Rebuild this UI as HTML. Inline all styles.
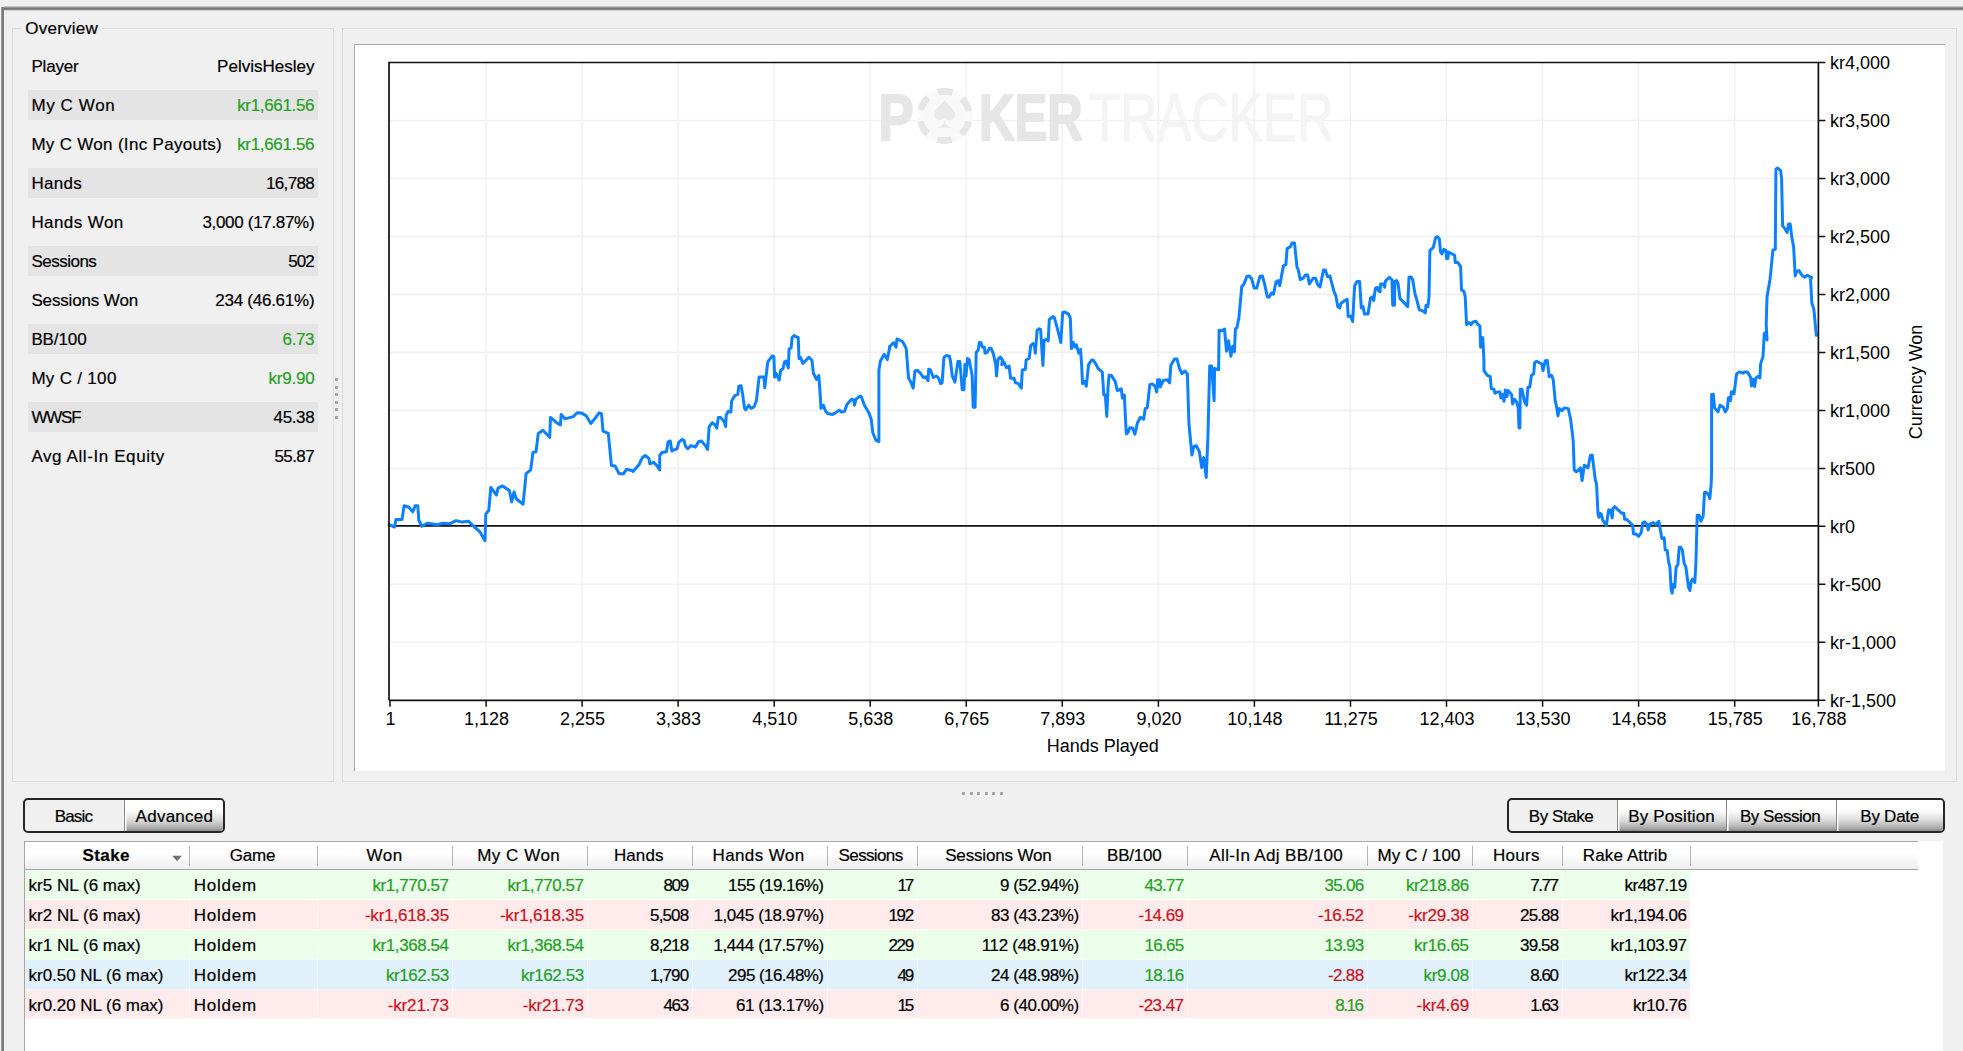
<!DOCTYPE html>
<html><head><meta charset="utf-8"><title>Overview</title>
<style>
html,body{margin:0;padding:0;}
body{width:1963px;height:1051px;overflow:hidden;background:#f0f0f0;font-family:"Liberation Sans", sans-serif;font-size:17px;color:#000;position:relative;}
.abs{position:absolute;}
.dot{position:absolute;width:3px;height:3px;background:#a4a4a4;box-shadow:1px 1px 0 #fff;}
.t{position:absolute;white-space:nowrap;line-height:20px;height:20px;-webkit-text-stroke:0.2px currentColor;}
.g{color:#1fa01f;}
.r{color:#c8141e;}
.gb{position:absolute;border:1px solid #dcdcdc;box-sizing:border-box;}
.shade{position:absolute;left:27.7px;width:289.9px;height:30px;background:#e4e4e4;}
.btn{position:absolute;top:0;height:100%;box-sizing:border-box;}
.grad{background:linear-gradient(#ffffff 0%,#ffffff 28%,#f2f2f2 45%,#dadada 65%,#bdbdbd 82%,#a0a0a0 94%,#8a8a8a 100%);box-shadow:inset 1.5px 0 0 #fff;}
.bg{position:absolute;border:2px solid #262626;border-radius:5px;box-sizing:border-box;overflow:hidden;background:#f0f0f0;}
.sep{position:absolute;top:846px;width:1px;height:20px;background:#b4b4b4;}
.c{position:absolute;height:29px;}
</style></head><body>

<div class="abs" style="left:0.8px;top:6.6px;width:3.6px;height:1045px;background:linear-gradient(to right,#c4c4c4,#8c8c8c 25%,#767676 50%,#6e6e6e 75%,#9a9a9a)"></div>
<div class="abs" style="left:3.5px;top:6px;width:1960px;height:4.6px;background:linear-gradient(#dadada,#9a9a9a 28%,#6e6e6e 52%,#8e8e8e 72%,#c8c8c8 88%,#f6f6f6)"></div>
<div class="gb" style="left:12px;top:28px;width:322px;height:753.5px"></div>
<div class="abs" style="left:22px;top:20px;width:80px;height:16px;background:#f0f0f0"></div>
<div class="t " style="left:25.30px;top:19px;letter-spacing:0.229px;">Overview</div>
<div class="gb" style="left:342px;top:28px;width:1614.5px;height:753.5px"></div>
<div class="t " style="left:31.40px;top:57px;letter-spacing:-0.170px;">Player</div>
<div class="t " style="left:217.10px;top:57px;letter-spacing:0.011px;">PelvisHesley</div>
<div class="shade" style="top:90.4px"></div>
<div class="t " style="left:31.40px;top:96px;letter-spacing:0.614px;">My C Won</div>
<div class="t g" style="left:237.20px;top:96px;letter-spacing:-0.331px;">kr1,661.56</div>
<div class="t " style="left:31.40px;top:135px;letter-spacing:0.306px;">My C Won (Inc Payouts)</div>
<div class="t g" style="left:237.20px;top:135px;letter-spacing:-0.331px;">kr1,661.56</div>
<div class="shade" style="top:168.4px"></div>
<div class="t " style="left:31.40px;top:174px;letter-spacing:0.294px;">Hands</div>
<div class="t " style="left:266.10px;top:174px;letter-spacing:-0.700px;">16,788</div>
<div class="t " style="left:31.40px;top:213px;letter-spacing:0.425px;">Hands Won</div>
<div class="t " style="left:202.40px;top:213px;letter-spacing:-0.312px;">3,000 (17.87%)</div>
<div class="shade" style="top:246.4px"></div>
<div class="t " style="left:31.40px;top:252px;letter-spacing:-0.500px;">Sessions</div>
<div class="t " style="left:288.30px;top:252px;letter-spacing:-1.037px;">502</div>
<div class="t " style="left:31.40px;top:291px;letter-spacing:-0.143px;">Sessions Won</div>
<div class="t " style="left:215.30px;top:291px;letter-spacing:-0.257px;">234 (46.61%)</div>
<div class="shade" style="top:324.4px"></div>
<div class="t " style="left:31.40px;top:330px;letter-spacing:-0.110px;">BB/100</div>
<div class="t g" style="left:282.60px;top:330px;letter-spacing:-0.375px;">6.73</div>
<div class="t " style="left:31.40px;top:369px;letter-spacing:0.306px;">My C / 100</div>
<div class="t g" style="left:268.50px;top:369px;letter-spacing:-0.230px;">kr9.90</div>
<div class="shade" style="top:402.4px"></div>
<div class="t " style="left:31.40px;top:408px;letter-spacing:-1.192px;">WWSF</div>
<div class="t " style="left:273.60px;top:408px;letter-spacing:-0.375px;">45.38</div>
<div class="t " style="left:31.40px;top:447px;letter-spacing:0.594px;">Avg All-In Equity</div>
<div class="t " style="left:274.40px;top:447px;letter-spacing:-0.575px;">55.87</div>
<div class="dot" style="left:335.4px;top:378.4px"></div>
<div class="dot" style="left:335.4px;top:385.9px"></div>
<div class="dot" style="left:335.4px;top:393.4px"></div>
<div class="dot" style="left:335.4px;top:400.9px"></div>
<div class="dot" style="left:335.4px;top:408.4px"></div>
<div class="dot" style="left:335.4px;top:415.9px"></div>
<div class="dot" style="left:962.4px;top:792.4px"></div>
<div class="dot" style="left:969.9px;top:792.4px"></div>
<div class="dot" style="left:977.4px;top:792.4px"></div>
<div class="dot" style="left:984.9px;top:792.4px"></div>
<div class="dot" style="left:992.4px;top:792.4px"></div>
<div class="dot" style="left:999.9px;top:792.4px"></div>
<div class="abs" style="left:354px;top:44px;width:1590.6px;height:727px;background:#fff;border-left:1px solid #a6a6a6;border-top:1px solid #a6a6a6;box-sizing:border-box"></div>
<svg class="abs" style="left:0;top:0" width="1963" height="800" viewBox="0 0 1963 800" font-family='"Liberation Sans", sans-serif' font-size="18">
<path d="M486.1 62.5V700.3M582.1 62.5V700.3M678.1 62.5V700.3M774.2 62.5V700.3M870.2 62.5V700.3M966.3 62.5V700.3M1062.3 62.5V700.3M1158.4 62.5V700.3M1254.4 62.5V700.3M1350.5 62.5V700.3M1446.5 62.5V700.3M1542.6 62.5V700.3M1638.6 62.5V700.3M1734.7 62.5V700.3M389.0 120.5H1818.4M389.0 178.5H1818.4M389.0 236.4H1818.4M389.0 294.4H1818.4M389.0 352.4H1818.4M389.0 410.4H1818.4M389.0 468.4H1818.4M389.0 584.3H1818.4M389.0 642.3H1818.4" stroke="#f1f1f1" stroke-width="1.6" fill="none"/>
<g>
<text x="878.3" y="139.9" font-size="65" font-weight="bold" fill="#e6e6e6" stroke="#e6e6e6" stroke-width="2" stroke-linejoin="round" textLength="35.5" lengthAdjust="spacingAndGlyphs">P</text>
<circle cx="944.6" cy="116" r="28" fill="#f9f9f9"/>
<circle cx="944.6" cy="116" r="24.6" fill="none" stroke="#e6e6e6" stroke-width="6.8" stroke-dasharray="14.6 11.16" transform="rotate(13 944.6 116)"/>
<circle cx="944.6" cy="116" r="21" fill="#f8f8f8"/>
<path d="M944.6 100C942 105 934.2 109 934.2 115C934.2 118.500 937 120.300 939.500 120.300C941.800 120.300 943.600 119.200 944.600 117.600C945.600 119.200 947.400 120.300 949.700 120.300C952.200 120.300 955 118.500 955 115C955 109 947.200 105 944.600 100ZM944.600 120.500C944 124 941 127 936.600 127.800H952.600C948.200 127 945.200 124 944.600 120.500Z" fill="#e9e9e9"/>
<text x="978.9" y="139.9" font-size="65" font-weight="bold" fill="#e6e6e6" stroke="#e6e6e6" stroke-width="2" stroke-linejoin="round" textLength="104" lengthAdjust="spacingAndGlyphs">KER</text>
<text x="1089" y="140.8" font-size="67.6" fill="#f4f4f4" stroke="#f4f4f4" stroke-width="1.2" textLength="245" lengthAdjust="spacingAndGlyphs">TRACKER</text>
</g>
<path d="M389.0 525.9H1818.4" stroke="#111" stroke-width="1.6" fill="none"/>
<polyline points="389.1,524.7 394.5,527.0 396.0,519.4 402.1,519.4 404.1,505.7 408.9,507.2 412.7,511.8 415.3,505.7 417.8,505.7 418.8,520.2 421.9,526.2 427.2,523.2 437.8,524.7 442.4,523.2 450.0,523.7 456.1,520.6 462.2,522.1 468.3,521.2 474.4,527.0 479.7,531.6 485.0,540.7 485.8,514.1 488.8,510.3 490.8,487.4 496.5,495.0 498.0,488.2 502.5,485.9 509.4,490.5 511.7,501.9 514.0,492.0 516.2,498.8 523.1,504.2 526.1,473.7 530.7,469.9 533.0,452.4 536.0,451.7 538.3,433.4 542.9,430.3 549.7,437.2 550.5,417.4 556.6,422.7 560.4,425.0 561.2,414.4 565.0,418.9 573.3,416.6 577.1,412.8 581.7,413.1 586.3,415.9 590.8,423.5 594.6,418.9 599.2,412.8 601.5,413.6 603.0,431.1 608.3,433.4 611.4,465.4 615.2,466.1 619.0,473.7 623.6,473.7 626.6,469.2 632.7,470.7 633.0,471.5 639.1,464.6 642.2,457.8 645.2,455.5 649.0,458.5 649.8,463.9 653.6,462.3 656.6,465.4 659.7,469.9 659.7,455.5 662.0,452.4 666.5,451.7 668.1,441.8 670.3,441.0 671.9,450.9 677.2,448.6 678.7,442.5 681.8,439.5 684.0,440.3 685.6,446.4 687.8,448.6 690.9,445.6 695.5,447.1 698.5,441.8 701.5,441.0 705.4,445.6 707.6,449.4 709.2,426.6 712.2,422.8 715.2,425.0 716.8,428.1 718.3,417.4 720.6,417.4 724.4,422.0 725.6,426.6 726.2,415.1 728.2,411.3 730.8,412.1 731.7,400.7 735.0,395.4 737.8,394.6 738.8,386.2 741.1,385.8 742.7,394.6 744.5,408.3 745.7,409.8 748.7,405.2 751.0,408.3 754.1,406.8 756.4,400.7 759.1,377.1 764.0,377.1 764.7,387.7 767.8,361.9 772.3,355.8 773.9,356.5 774.6,377.1 776.1,373.3 779.2,380.1 780.7,370.2 783.0,368.7 784.5,361.9 786.0,361.1 788.3,368.0 789.1,348.9 791.1,348.2 792.1,337.5 794.1,335.5 795.9,336.7 798.2,337.5 799.0,358.8 800.5,357.3 802.8,363.4 808.9,357.3 811.9,360.3 813.4,373.3 816.5,379.4 818.8,375.6 820.3,396.1 821.0,408.3 823.3,405.2 825.6,411.3 827.9,413.6 832.5,414.4 835.5,412.9 839.3,410.1 841.6,412.1 844.6,411.3 846.9,404.5 851.5,399.2 853.8,399.9 854.5,405.2 856.1,399.2 859.9,396.1 861.4,396.9 864.4,405.2 869.0,412.9 871.3,419.7 872.8,432.7 875.9,440.3 878.9,441.5 878.9,370.2 880.4,361.1 884.2,354.3 887.3,359.6 890.0,345.9 889.4,347.1 893.7,342.5 896.0,347.1 897.0,339.0 899.8,340.2 902.8,341.8 906.2,348.6 908.6,378.3 910.4,381.3 913.2,388.2 915.0,370.7 917.3,370.4 920.3,373.0 923.4,377.5 925.7,376.8 928.0,380.6 928.7,369.2 930.5,369.9 933.3,377.5 936.3,376.0 938.6,378.3 940.6,383.6 942.1,382.9 943.9,357.7 946.2,355.5 949.3,356.2 950.3,360.0 952.3,376.0 954.9,382.1 957.9,361.5 959.9,361.5 962.2,389.7 964.0,389.7 964.9,364.6 966.0,376.0 967.5,358.5 969.1,359.3 972.1,375.2 973.2,407.2 975.1,407.2 976.2,352.4 978.2,350.1 979.3,342.5 980.8,342.5 982.3,347.1 984.3,347.1 985.0,353.2 987.3,352.4 989.3,348.2 991.1,348.2 993.4,353.9 995.7,364.6 996.5,376.0 998.0,359.3 1000.3,357.0 1002.5,360.0 1001.8,364.6 1004.1,362.3 1006.4,367.6 1009.1,366.1 1010.6,378.3 1014.0,378.3 1015.5,382.9 1018.5,383.6 1021.3,388.2 1022.3,369.9 1025.4,369.2 1026.1,360.0 1029.2,358.2 1030.7,345.6 1033.0,343.6 1034.5,346.3 1035.3,353.2 1037.1,330.3 1039.1,328.8 1040.6,329.3 1042.9,365.4 1044.1,340.2 1046.7,339.5 1048.2,341.0 1049.3,319.7 1052.8,316.6 1054.3,317.4 1057.3,328.1 1060.8,342.5 1062.7,312.5 1065.0,312.1 1068.8,314.4 1070.3,318.2 1071.5,348.6 1073.3,342.5 1074.9,347.1 1076.4,344.8 1078.7,353.2 1080.6,349.4 1081.7,366.1 1082.5,383.6 1084.7,381.3 1086.3,386.2 1088.6,364.6 1091.6,360.0 1093.4,360.3 1096.2,364.6 1098.0,368.4 1102.3,372.2 1103.8,395.0 1105.3,395.0 1106.8,416.4 1108.0,387.4 1109.1,375.2 1111.1,375.2 1115.2,381.3 1117.2,390.5 1121.3,388.9 1122.4,398.1 1124.3,395.0 1126.3,433.9 1128.1,432.3 1129.7,427.8 1132.5,427.9 1134.9,434.1 1137.4,423.0 1140.4,417.3 1143.6,419.3 1145.3,408.6 1147.3,407.6 1149.8,384.6 1152.3,383.9 1155.2,386.4 1156.7,392.0 1157.7,379.7 1159.7,379.7 1160.2,387.1 1163.4,380.4 1167.1,379.7 1169.6,382.9 1170.8,365.6 1174.5,359.1 1177.0,359.1 1179.5,368.5 1182.0,373.5 1184.9,371.0 1187.4,374.0 1188.9,423.0 1191.9,455.1 1193.8,446.5 1196.3,445.7 1199.3,451.4 1201.7,467.5 1203.7,457.6 1206.2,477.4 1207.9,437.8 1209.7,366.1 1211.6,366.1 1214.1,400.7 1214.6,368.5 1218.6,369.8 1219.1,330.2 1222.0,330.9 1224.5,329.0 1226.5,351.2 1228.5,340.8 1230.9,356.2 1232.7,346.3 1234.4,351.7 1235.4,329.0 1236.9,327.7 1238.9,317.8 1241.8,286.4 1243.8,284.4 1246.8,276.5 1249.2,276.0 1251.7,279.0 1254.2,288.1 1256.7,288.1 1259.9,276.5 1262.4,276.0 1264.8,284.9 1267.3,296.8 1269.0,297.3 1271.5,293.1 1273.5,294.3 1276.0,282.0 1277.9,280.7 1279.7,285.7 1283.4,265.9 1285.9,264.6 1287.1,248.6 1290.3,246.8 1292.0,242.9 1294.5,242.9 1297.0,267.1 1298.2,269.6 1300.2,279.5 1303.2,278.2 1305.2,275.0 1307.6,275.0 1309.4,283.9 1313.1,278.2 1315.6,278.2 1317.5,284.4 1320.0,286.9 1323.5,270.1 1325.4,270.1 1327.4,276.5 1329.9,276.0 1334.1,291.9 1335.8,295.6 1337.8,306.7 1339.8,307.9 1340.8,303.7 1344.7,300.5 1347.2,299.3 1348.2,316.6 1350.7,316.1 1352.7,321.5 1354.6,285.7 1357.1,281.5 1359.6,281.5 1361.3,307.9 1363.1,306.7 1364.5,314.1 1368.0,314.1 1370.5,298.0 1372.5,296.8 1373.7,300.5 1375.4,288.1 1377.4,287.4 1378.4,290.6 1380.0,291.9 1380.7,283.9 1383.3,283.9 1384.7,287.3 1385.3,281.3 1389.3,277.3 1392.0,279.9 1392.7,305.3 1394.4,305.3 1394.9,281.3 1396.6,280.6 1398.0,283.3 1400.0,298.6 1403.3,301.9 1407.7,306.6 1409.0,277.3 1410.9,276.9 1412.6,279.3 1414.9,293.3 1417.3,301.9 1419.3,309.9 1422.0,310.6 1425.3,312.8 1426.0,305.3 1427.9,306.6 1429.0,296.6 1429.9,250.6 1433.3,247.3 1435.7,237.3 1437.5,236.7 1439.3,238.7 1440.6,252.0 1441.9,254.0 1443.9,249.3 1445.9,250.6 1446.6,258.6 1447.9,258.6 1448.6,252.0 1454.6,255.3 1455.3,262.6 1457.9,262.6 1460.6,266.6 1461.5,289.9 1463.9,291.3 1465.2,296.6 1466.6,324.6 1469.2,322.6 1471.2,324.6 1472.6,322.2 1475.9,321.2 1477.9,324.6 1479.9,325.9 1480.6,347.2 1481.5,337.2 1482.8,337.9 1483.9,359.2 1484.0,370.6 1487.3,375.3 1490.2,376.6 1491.3,388.6 1494.0,389.3 1495.0,393.3 1497.3,392.0 1500.0,392.0 1500.9,397.9 1502.6,394.6 1504.0,401.3 1505.3,390.0 1507.0,396.6 1508.0,390.6 1511.6,394.6 1512.6,403.9 1514.6,399.3 1516.6,401.9 1518.2,407.3 1519.0,427.9 1519.9,427.9 1520.3,389.3 1521.9,389.3 1524.6,401.9 1526.6,405.3 1527.9,387.3 1529.7,387.3 1531.5,375.3 1533.7,374.0 1534.6,362.7 1536.6,361.3 1541.9,364.0 1543.0,370.6 1545.3,360.7 1547.3,360.4 1549.2,376.6 1551.5,375.3 1553.2,379.3 1555.2,400.6 1556.8,407.9 1557.9,415.9 1559.5,408.6 1561.9,410.6 1564.6,407.9 1568.3,408.6 1570.6,419.3 1573.2,440.6 1574.2,469.9 1576.3,471.9 1580.5,467.9 1582.1,480.5 1584.3,465.2 1587.9,467.9 1590.5,455.2 1592.3,455.2 1595.2,479.2 1596.6,484.7 1598.0,514.0 1598.9,517.3 1600.0,513.3 1601.3,514.0 1602.6,519.9 1606.4,525.3 1608.6,510.0 1610.3,510.0 1612.2,517.9 1613.0,508.6 1614.6,506.6 1621.9,513.3 1623.9,513.3 1624.6,519.3 1626.6,519.3 1632.6,525.3 1633.5,533.9 1635.9,533.9 1638.6,536.3 1641.2,532.6 1642.8,522.6 1644.6,521.9 1647.2,524.6 1648.2,529.9 1649.9,523.9 1653.2,522.6 1655.9,524.6 1658.8,521.3 1661.9,538.6 1664.2,537.9 1665.2,549.9 1667.2,550.6 1668.6,561.9 1669.9,567.2 1671.2,589.9 1672.1,593.2 1673.2,584.5 1674.8,587.2 1676.1,567.2 1677.9,564.6 1679.2,547.3 1680.5,547.0 1682.3,549.9 1684.1,563.2 1685.9,567.2 1688.5,587.2 1689.9,590.5 1691.2,581.2 1692.5,579.2 1694.8,582.5 1695.9,563.2 1697.2,515.3 1699.2,515.3 1700.9,521.3 1703.2,516.0 1704.5,492.6 1705.8,492.0 1708.5,494.6 1709.8,498.6 1711.2,484.0 1711.6,470.0 1711.6,394.6 1713.3,394.3 1714.6,407.9 1718.0,411.9 1720.0,405.2 1723.3,407.2 1725.3,411.9 1727.3,408.5 1728.4,397.9 1729.7,397.2 1730.6,400.6 1731.3,391.9 1732.6,391.6 1734.0,393.9 1736.6,373.9 1739.3,371.9 1743.3,373.2 1744.6,371.9 1747.3,371.9 1750.6,377.2 1751.5,385.9 1753.3,379.2 1754.6,386.6 1755.9,377.9 1757.9,376.6 1759.9,377.9 1760.6,363.9 1763.0,356.6 1764.3,333.3 1765.7,332.6 1767.0,339.9 1766.2,324.0 1767.0,297.3 1769.9,280.0 1770.6,273.9 1772.9,249.9 1775.3,249.2 1775.9,169.3 1777.7,168.0 1780.6,170.6 1781.6,178.6 1782.6,225.9 1784.8,228.6 1787.2,232.6 1788.6,223.9 1790.2,223.9 1791.9,237.9 1793.6,246.6 1795.2,275.9 1796.6,271.2 1799.0,270.6 1801.9,275.2 1804.6,277.2 1807.2,275.2 1811.5,277.6 1810.6,280.0 1811.9,303.3 1813.9,309.3 1816.3,335.3" fill="none" stroke="#0c80ff" stroke-width="3" stroke-linejoin="round" stroke-linecap="round"/>
<path d="M389.0 700.3V62.5H1818.4V700.3H389.0" stroke="#111" stroke-width="1.7" fill="none"/>
<path d="M390.0 700.3v6.5M486.1 700.3v6.5M582.1 700.3v6.5M678.1 700.3v6.5M774.2 700.3v6.5M870.2 700.3v6.5M966.3 700.3v6.5M1062.3 700.3v6.5M1158.4 700.3v6.5M1254.4 700.3v6.5M1350.5 700.3v6.5M1446.5 700.3v6.5M1542.6 700.3v6.5M1638.6 700.3v6.5M1734.7 700.3v6.5M1818.4 700.3v6.5M1818.4 62.5h7M1818.4 120.5h7M1818.4 178.5h7M1818.4 236.4h7M1818.4 294.4h7M1818.4 352.4h7M1818.4 410.4h7M1818.4 468.4h7M1818.4 526.3h7M1818.4 584.3h7M1818.4 642.3h7M1818.4 700.3h7" stroke="#111" stroke-width="1.5" fill="none"/>
<text x="390.5" y="724.7" text-anchor="middle">1</text>
<text x="486.6" y="724.7" text-anchor="middle">1,128</text>
<text x="582.6" y="724.7" text-anchor="middle">2,255</text>
<text x="678.6" y="724.7" text-anchor="middle">3,383</text>
<text x="774.7" y="724.7" text-anchor="middle">4,510</text>
<text x="870.8" y="724.7" text-anchor="middle">5,638</text>
<text x="966.8" y="724.7" text-anchor="middle">6,765</text>
<text x="1062.8" y="724.7" text-anchor="middle">7,893</text>
<text x="1158.9" y="724.7" text-anchor="middle">9,020</text>
<text x="1254.9" y="724.7" text-anchor="middle">10,148</text>
<text x="1351.0" y="724.7" text-anchor="middle">11,275</text>
<text x="1447.0" y="724.7" text-anchor="middle">12,403</text>
<text x="1543.1" y="724.7" text-anchor="middle">13,530</text>
<text x="1639.1" y="724.7" text-anchor="middle">14,658</text>
<text x="1735.2" y="724.7" text-anchor="middle">15,785</text>
<text x="1818.9" y="724.7" text-anchor="middle">16,788</text>
<text x="1830" y="69.0">kr4,000</text>
<text x="1830" y="127.0">kr3,500</text>
<text x="1830" y="185.0">kr3,000</text>
<text x="1830" y="242.9">kr2,500</text>
<text x="1830" y="300.9">kr2,000</text>
<text x="1830" y="358.9">kr1,500</text>
<text x="1830" y="416.9">kr1,000</text>
<text x="1830" y="474.9">kr500</text>
<text x="1830" y="532.8">kr0</text>
<text x="1830" y="590.8">kr-500</text>
<text x="1830" y="648.8">kr-1,000</text>
<text x="1830" y="706.8">kr-1,500</text>
<text x="1102.8" y="751.7" text-anchor="middle">Hands Played</text>
<text transform="translate(1922.1,382) rotate(-90)" text-anchor="middle">Currency Won</text>
</svg>
<div class="bg" style="left:23.3px;top:798px;width:201.3px;height:35px">
<div class="btn grad" style="left:99px;width:102px;border-left:1.5px solid #8a8a8a"></div>
</div>
<div class="t " style="left:54.70px;top:807px;letter-spacing:-0.806px;">Basic</div>
<div class="t " style="left:135.55px;top:807px;letter-spacing:0.268px;">Advanced</div>
<div class="bg" style="left:1506.8px;top:798px;width:438.4px;height:35px">
<div class="btn grad" style="left:108.1px;width:111px;border-left:1.5px solid #8a8a8a;"></div>
<div class="btn grad" style="left:217.7px;width:111px;border-left:1.5px solid #8a8a8a;"></div>
<div class="btn grad" style="left:327.3px;width:111px;border-left:1.5px solid #8a8a8a;"></div>
</div>
<div class="t " style="left:1528.85px;top:807px;letter-spacing:-0.443px;">By Stake</div>
<div class="t " style="left:1628.25px;top:807px;letter-spacing:0.150px;">By Position</div>
<div class="t " style="left:1739.90px;top:807px;letter-spacing:-0.467px;">By Session</div>
<div class="t " style="left:1860.30px;top:807px;letter-spacing:-0.250px;">By Date</div>
<div class="abs" style="left:23.6px;top:841px;width:1919.7px;height:210px;background:#fff;border-left:1.5px solid #a6a6a6;box-sizing:border-box"></div>
<div class="abs" style="left:23.6px;top:840.6px;width:1894.6px;height:29.6px;background:linear-gradient(#fff,#fff 40%,#eeeeee);border-top:1.4px solid #a8a8a8;border-bottom:1.5px solid #a4a4a4;border-left:1.5px solid #a6a6a6;box-sizing:border-box"></div>
<div class="t " style="left:82.45px;top:846px;letter-spacing:0.431px;font-weight:bold;">Stake</div>
<div class="sep" style="left:188.5px"></div>
<div class="t " style="left:229.80px;top:846px;letter-spacing:-0.217px;">Game</div>
<div class="sep" style="left:316.5px"></div>
<div class="t " style="left:366.50px;top:846px;letter-spacing:0.488px;">Won</div>
<div class="sep" style="left:451.5px"></div>
<div class="t " style="left:477.20px;top:846px;letter-spacing:0.514px;">My C Won</div>
<div class="sep" style="left:586.5px"></div>
<div class="t " style="left:613.90px;top:846px;letter-spacing:0.119px;">Hands</div>
<div class="sep" style="left:691.5px"></div>
<div class="t " style="left:712.50px;top:846px;letter-spacing:0.387px;">Hands Won</div>
<div class="sep" style="left:826.5px"></div>
<div class="t " style="left:838.60px;top:846px;letter-spacing:-0.629px;">Sessions</div>
<div class="sep" style="left:916.5px"></div>
<div class="t " style="left:945.20px;top:846px;letter-spacing:-0.161px;">Sessions Won</div>
<div class="sep" style="left:1081.5px"></div>
<div class="t " style="left:1107.10px;top:846px;letter-spacing:-0.230px;">BB/100</div>
<div class="sep" style="left:1186.5px"></div>
<div class="t " style="left:1209.30px;top:846px;letter-spacing:0.361px;">All-In Adj BB/100</div>
<div class="sep" style="left:1366.5px"></div>
<div class="t " style="left:1377.50px;top:846px;letter-spacing:0.083px;">My C / 100</div>
<div class="sep" style="left:1471.5px"></div>
<div class="t " style="left:1492.90px;top:846px;letter-spacing:0.306px;">Hours</div>
<div class="sep" style="left:1561.5px"></div>
<div class="t " style="left:1582.80px;top:846px;letter-spacing:0.128px;">Rake Attrib</div>
<div class="sep" style="left:1689.5px"></div>
<svg class="abs" style="left:170px;top:853px" width="14" height="10"><path d="M2.3 2.7h9.6l-4.800 5.500z" fill="#707070"/></svg>
<div class="c" style="left:25.1px;top:870.4px;width:1664.5px;height:30px;background:#ebffeb"></div>
<div class="abs" style="left:25.1px;top:899.2px;width:1664.5px;height:1px;background:rgba(255,255,255,0.5)"></div>
<div class="t " style="left:28.60px;top:876px;letter-spacing:0.027px;">kr5 NL (6 max)</div>
<div class="t " style="left:193.80px;top:876px;letter-spacing:0.755px;">Holdem</div>
<div class="t g" style="left:372.50px;top:876px;letter-spacing:-0.419px;">kr1,770.57</div>
<div class="t g" style="left:507.50px;top:876px;letter-spacing:-0.419px;">kr1,770.57</div>
<div class="t " style="left:663.50px;top:876px;letter-spacing:-1.387px;">809</div>
<div class="t " style="left:728.10px;top:876px;letter-spacing:-0.557px;">155 (19.16%)</div>
<div class="t " style="left:897.50px;top:876px;letter-spacing:-2.275px;">17</div>
<div class="t " style="left:1000.10px;top:876px;letter-spacing:-0.458px;">9 (52.94%)</div>
<div class="t g" style="left:1144.60px;top:876px;letter-spacing:-0.750px;">43.77</div>
<div class="t g" style="left:1324.60px;top:876px;letter-spacing:-0.750px;">35.06</div>
<div class="t g" style="left:1405.90px;top:876px;letter-spacing:-0.418px;">kr218.86</div>
<div class="t " style="left:1530.30px;top:876px;letter-spacing:-1.442px;">7.77</div>
<div class="t " style="left:1624.50px;top:876px;letter-spacing:-0.504px;">kr487.19</div>
<div class="c" style="left:25.1px;top:900.2px;width:1664.5px;height:30px;background:#ffebeb"></div>
<div class="abs" style="left:25.1px;top:929.0px;width:1664.5px;height:1px;background:rgba(255,255,255,0.5)"></div>
<div class="t " style="left:28.60px;top:906px;letter-spacing:0.027px;">kr2 NL (6 max)</div>
<div class="t " style="left:193.80px;top:906px;letter-spacing:0.755px;">Holdem</div>
<div class="t r" style="left:364.90px;top:906px;letter-spacing:-0.180px;">-kr1,618.35</div>
<div class="t r" style="left:499.90px;top:906px;letter-spacing:-0.180px;">-kr1,618.35</div>
<div class="t " style="left:650.10px;top:906px;letter-spacing:-0.875px;">5,508</div>
<div class="t " style="left:713.50px;top:906px;letter-spacing:-0.435px;">1,045 (18.97%)</div>
<div class="t " style="left:888.50px;top:906px;letter-spacing:-1.387px;">192</div>
<div class="t " style="left:991.10px;top:906px;letter-spacing:-0.463px;">83 (43.23%)</div>
<div class="t r" style="left:1138.50px;top:906px;letter-spacing:-0.530px;">-14.69</div>
<div class="t r" style="left:1318.10px;top:906px;letter-spacing:-0.450px;">-16.52</div>
<div class="t r" style="left:1408.30px;top:906px;letter-spacing:-0.225px;">-kr29.38</div>
<div class="t " style="left:1520.10px;top:906px;letter-spacing:-0.875px;">25.88</div>
<div class="t " style="left:1610.60px;top:906px;letter-spacing:-0.431px;">kr1,194.06</div>
<div class="c" style="left:25.1px;top:930.0px;width:1664.5px;height:30px;background:#ebffeb"></div>
<div class="abs" style="left:25.1px;top:958.8px;width:1664.5px;height:1px;background:rgba(255,255,255,0.5)"></div>
<div class="t " style="left:28.60px;top:936px;letter-spacing:0.027px;">kr1 NL (6 max)</div>
<div class="t " style="left:193.80px;top:936px;letter-spacing:0.755px;">Holdem</div>
<div class="t g" style="left:372.50px;top:936px;letter-spacing:-0.419px;">kr1,368.54</div>
<div class="t g" style="left:507.50px;top:936px;letter-spacing:-0.419px;">kr1,368.54</div>
<div class="t " style="left:650.10px;top:936px;letter-spacing:-0.875px;">8,218</div>
<div class="t " style="left:713.50px;top:936px;letter-spacing:-0.435px;">1,444 (17.57%)</div>
<div class="t " style="left:888.50px;top:936px;letter-spacing:-1.387px;">229</div>
<div class="t " style="left:981.70px;top:936px;letter-spacing:-0.305px;">112 (48.91%)</div>
<div class="t g" style="left:1144.60px;top:936px;letter-spacing:-0.750px;">16.65</div>
<div class="t g" style="left:1324.60px;top:936px;letter-spacing:-0.750px;">13.93</div>
<div class="t g" style="left:1414.10px;top:936px;letter-spacing:-0.292px;">kr16.65</div>
<div class="t " style="left:1520.10px;top:936px;letter-spacing:-0.875px;">39.58</div>
<div class="t " style="left:1610.60px;top:936px;letter-spacing:-0.431px;">kr1,103.97</div>
<div class="c" style="left:25.1px;top:959.8px;width:1664.5px;height:30px;background:#e1f1fb"></div>
<div class="abs" style="left:25.1px;top:988.6px;width:1664.5px;height:1px;background:rgba(255,255,255,0.5)"></div>
<div class="t " style="left:28.60px;top:966px;letter-spacing:-0.036px;">kr0.50 NL (6 max)</div>
<div class="t " style="left:193.80px;top:966px;letter-spacing:0.755px;">Holdem</div>
<div class="t g" style="left:385.90px;top:966px;letter-spacing:-0.418px;">kr162.53</div>
<div class="t g" style="left:520.90px;top:966px;letter-spacing:-0.418px;">kr162.53</div>
<div class="t " style="left:650.10px;top:966px;letter-spacing:-0.875px;">1,790</div>
<div class="t " style="left:728.10px;top:966px;letter-spacing:-0.557px;">295 (16.48%)</div>
<div class="t " style="left:897.50px;top:966px;letter-spacing:-2.275px;">49</div>
<div class="t " style="left:991.10px;top:966px;letter-spacing:-0.463px;">24 (48.98%)</div>
<div class="t g" style="left:1144.60px;top:966px;letter-spacing:-0.750px;">18.16</div>
<div class="t r" style="left:1328.10px;top:966px;letter-spacing:-0.688px;">-2.88</div>
<div class="t g" style="left:1423.60px;top:966px;letter-spacing:-0.350px;">kr9.08</div>
<div class="t " style="left:1530.30px;top:966px;letter-spacing:-1.442px;">8.60</div>
<div class="t " style="left:1624.50px;top:966px;letter-spacing:-0.504px;">kr122.34</div>
<div class="c" style="left:25.1px;top:989.6px;width:1664.5px;height:29.8px;background:#ffebeb"></div>
<div class="abs" style="left:25.1px;top:1018.4px;width:1664.5px;height:1px;background:rgba(255,255,255,0.5)"></div>
<div class="t " style="left:28.60px;top:996px;letter-spacing:-0.036px;">kr0.20 NL (6 max)</div>
<div class="t " style="left:193.80px;top:996px;letter-spacing:0.755px;">Holdem</div>
<div class="t r" style="left:387.70px;top:996px;letter-spacing:-0.139px;">-kr21.73</div>
<div class="t r" style="left:522.70px;top:996px;letter-spacing:-0.139px;">-kr21.73</div>
<div class="t " style="left:663.50px;top:996px;letter-spacing:-1.387px;">463</div>
<div class="t " style="left:736.10px;top:996px;letter-spacing:-0.463px;">61 (13.17%)</div>
<div class="t " style="left:897.50px;top:996px;letter-spacing:-2.275px;">15</div>
<div class="t " style="left:1000.10px;top:996px;letter-spacing:-0.458px;">6 (40.00%)</div>
<div class="t r" style="left:1138.50px;top:996px;letter-spacing:-0.530px;">-23.47</div>
<div class="t g" style="left:1335.30px;top:996px;letter-spacing:-1.442px;">8.16</div>
<div class="t r" style="left:1416.60px;top:996px;letter-spacing:-0.062px;">-kr4.69</div>
<div class="t " style="left:1530.30px;top:996px;letter-spacing:-1.442px;">1.63</div>
<div class="t " style="left:1633.10px;top:996px;letter-spacing:-0.458px;">kr10.76</div>
<div class="abs" style="left:188.5px;top:870.5px;width:1px;height:149px;background:rgba(255,255,255,0.45)"></div>
<div class="abs" style="left:316.5px;top:870.5px;width:1px;height:149px;background:rgba(255,255,255,0.45)"></div>
<div class="abs" style="left:451.5px;top:870.5px;width:1px;height:149px;background:rgba(255,255,255,0.45)"></div>
<div class="abs" style="left:586.5px;top:870.5px;width:1px;height:149px;background:rgba(255,255,255,0.45)"></div>
<div class="abs" style="left:691.5px;top:870.5px;width:1px;height:149px;background:rgba(255,255,255,0.45)"></div>
<div class="abs" style="left:826.5px;top:870.5px;width:1px;height:149px;background:rgba(255,255,255,0.45)"></div>
<div class="abs" style="left:916.5px;top:870.5px;width:1px;height:149px;background:rgba(255,255,255,0.45)"></div>
<div class="abs" style="left:1081.5px;top:870.5px;width:1px;height:149px;background:rgba(255,255,255,0.45)"></div>
<div class="abs" style="left:1186.5px;top:870.5px;width:1px;height:149px;background:rgba(255,255,255,0.45)"></div>
<div class="abs" style="left:1366.5px;top:870.5px;width:1px;height:149px;background:rgba(255,255,255,0.45)"></div>
<div class="abs" style="left:1471.5px;top:870.5px;width:1px;height:149px;background:rgba(255,255,255,0.45)"></div>
<div class="abs" style="left:1561.5px;top:870.5px;width:1px;height:149px;background:rgba(255,255,255,0.45)"></div>
<div class="abs" style="left:1689.5px;top:870.5px;width:1px;height:149px;background:rgba(255,255,255,0.45)"></div>
</body></html>
